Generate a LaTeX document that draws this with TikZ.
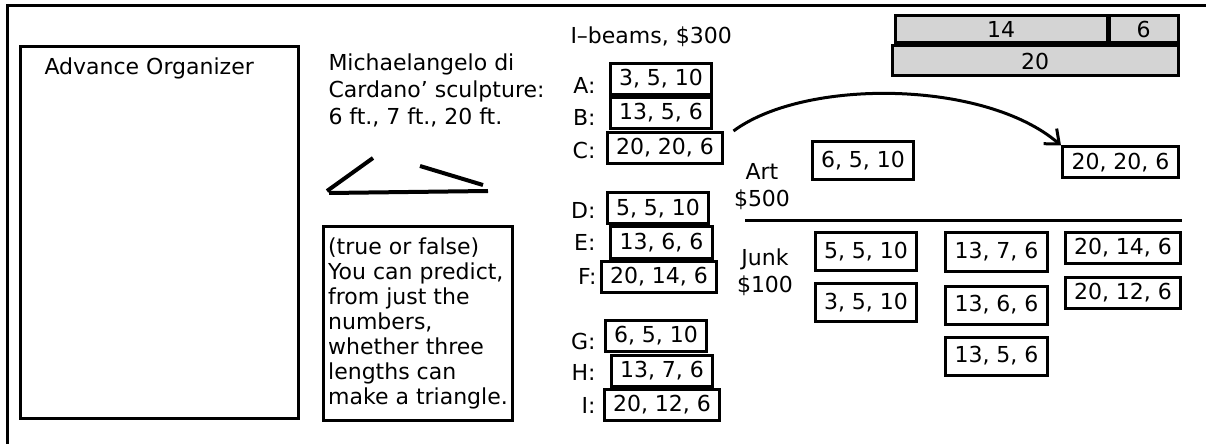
\documentclass[tikz,border=0pt]{standalone}
\usepackage{fontspec}
\setmainfont{DejaVu Sans}
\usetikzlibrary{arrows.meta}

\begin{document}
\begin{tikzpicture}[x=0.5pt, y=-0.5pt, >={Straight Barb[length=6pt,width=10pt]}, line width=1.5pt,
	   font=\fontsize{11}{13.5}\selectfont,
	   b/.style={draw, inner xsep=4.5pt, inner ysep=0pt, minimum height=15.5pt},
	   bt/.style={b, minimum height=19pt},
	   bar/.style={draw, fill=black!17, inner sep=0pt, minimum height=13.5pt},
	   lab/.style={anchor=east, inner sep=0pt}]
	  \useasboundingbox (0,0) rectangle (1206,444);
	  \draw (7,444) -- (7,6) -- (1206,6);
	  \node[draw, minimum width=139pt, minimum height=185.5pt] (AO) at (159,232.5) {};
	  \node[anchor=west, inner sep=0pt] (ao) at (43,68) {Advance Organizer};
	  \node[anchor=north west, align=left, inner sep=0pt] (M) at (327,52) {Michaelangelo di\\Cardano' sculpture:\\6 ft., 7 ft., 20 ft.};
	  \draw[line width=2pt] (327,191) -- (373,158); \draw[line width=2pt] (420,166) -- (483,185); \draw[line width=2pt] (329,193) -- (488,191);
	  \node[draw, align=left, inner xsep=2.5pt, minimum width=94pt, minimum height=96.5pt, font=\fontsize{11}{12.5}\selectfont] (TF) at (418,323.5)
	    {(true or false)\\You can predict,\\from just the\\numbers,\\whether three\\lengths can\\make a triangle.};
	  \node[anchor=west, inner sep=0pt] (ib) at (569,37) {I–beams, \$300};
	  % I-beams
	  \node[b] (A) at (661,79) {3, 5, 10};
	  \node[b] (B) at (661,113) {13, 5, 6};
	  \node[b] (C) at (665,148) {20, 20, 6};
	  \node[b] (D) at (658,208.5) {5, 5, 10};
	  \node[b] (E) at (661.5,242.5) {13, 6, 6};
	  \node[b] (F) at (659,277) {20, 14, 6};
	  \node[b] (G) at (656,336) {6, 5, 10};
	  \node[b] (H) at (662,370.5) {13, 7, 6};
	  \node[b] (I) at (662,405) {20, 12, 6};
	  \node[lab] (lA) at (597,85) {A:}; \node[lab] (lB) at (597,117) {B:}; \node[lab] (lC) at (597,150) {C:};
	  \node[lab] (lD) at (597,210) {D:}; \node[lab] (lE) at (597,242) {E:}; \node[lab] (lF) at (598,276) {F:};
	  \node[lab] (lG) at (597,341) {G:}; \node[lab] (lH) at (597,372) {H:}; \node[lab] (lI) at (597,405) {I:};
	  % art / junk
	  \node[bar, minimum width=106pt] (P14) at (1001,29.5) {14};
	  \node[bar, minimum width=34.5pt] (P6) at (1143.5,29.5) {6};
	  \node[bar, minimum width=143pt, minimum height=15pt] (P20) at (1035,61) {20};
	  \node[align=center, inner sep=0pt] (art) at (762,186.5) {Art\\\$500};
	  \node[bt] (R1) at (863,161) {6, 5, 10};
	  \node[b] (T) at (1120.5,162.5) {20, 20, 6};
	  \draw[->] ([xshift=4.5pt]C.north east) .. controls (805,78) and (985,80) .. (T.north west);
	  \draw (745,221) -- (1182,221);
	  \node[align=center, inner sep=0pt] (junk) at (765,272) {Junk\\\$100};
	  \node[bt] (J1) at (866,251.5) {5, 5, 10};
	  \node[bt] (J2) at (866,302.5) {3, 5, 10};
	  \node[bt] (J3) at (996.5,252) {13, 7, 6};
	  \node[bt] (J4) at (996.5,305) {13, 6, 6};
	  \node[bt] (J5) at (996.5,356) {13, 5, 6};
	  \node[b] (J6) at (1123,248) {20, 14, 6};
	  \node[b] (J7) at (1123,293) {20, 12, 6};
	\end{tikzpicture}
\end{document}
